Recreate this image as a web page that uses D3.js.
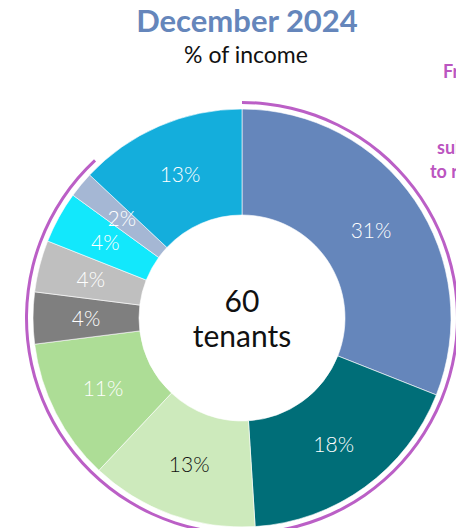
<!DOCTYPE html>
<html lang="en">
  <head>
    <meta charset="utf-8">
    <title>December 2024 - % of income</title>
    <script src="https://cdnjs.cloudflare.com/ajax/libs/d3/7.8.5/d3.min.js"></script>
    <style>
      body { margin: 0; background: #fff; }
      svg { display: block; font-family: "Lato", "Open Sans", sans-serif; }
    </style>
  </head>
  <body>
    <div id="chart"></div>
    <script>
    // slices, clockwise from 12 o'clock
    const shares = [31, 18, 13, 11, 4, 4, 4, 2, 13];
    const sliceColors = ["#6586bb", "#006e78", "#cdeabc", "#addd96", "#7f7f7f",
                         "#bfbfbf", "#12e8fc", "#a5b7d4", "#14aedc"];
    const labelColors = ["#fff", "#fff", "#111", "#fff", "#fff", "#fff", "#fff", "#fff", "#fff"];
    const tenants = 60;
    // purple bracket arc, in degrees
    const bracketFrom = 0;
    const bracketTo = 317;

    const w = 456, h = 528;
    const cx = 242, cy = 318;
    const rOuter = 209, rInner = 103;

    const svg = d3.select("#chart").append("svg")
      .attr("width", w)
      .attr("height", h);

    // title
    svg.append("text")
      .attr("x", 247).attr("y", 32)
      .attr("text-anchor", "middle")
      .style("font-size", "31px")
      .style("font-weight", "bold")
      .style("fill", "#6586bb")
      .text("December 2024");

    svg.append("text")
      .attr("x", 246).attr("y", 63)
      .attr("text-anchor", "middle")
      .style("font-size", "23px")
      .style("fill", "#111")
      .text("% of income");

    // side notes, cut by the right edge like in the original
    const notes = [["From", 443, 78], ["subsidy", 437, 154], ["to rent", 430, 178]];
    svg.selectAll(".note")
      .data(notes)
      .enter().append("text")
      .attr("class", "note")
      .attr("x", d => d[1]).attr("y", d => d[2])
      .style("font-size", "18px")
      .style("font-weight", "bold")
      .style("fill", "#bb55c0")
      .text(d => d[0]);

    const g = svg.append("g").attr("transform", "translate(" + cx + "," + cy + ")");

    const pie = d3.pie().sort(null).value(d => d);
    const arc = d3.arc().innerRadius(rInner).outerRadius(rOuter);
    const arcs = pie(shares);

    g.selectAll(".slice")
      .data(arcs)
      .enter().append("path")
      .attr("class", "slice")
      .attr("d", arc)
      .style("fill", (d, i) => sliceColors[i])
      .style("stroke", "#fff")
      .style("stroke-width", 0.6);

    g.selectAll(".lbl")
      .data(arcs)
      .enter().append("text")
      .attr("class", "lbl")
      .attr("transform", d => "translate(" + arc.centroid(d) + ")")
      .attr("text-anchor", "middle")
      .attr("dy", "0.36em")
      .style("font-size", "21px")
      .style("font-weight", 300)
      .style("fill", (d, i) => labelColors[i])
      .text(d => d.data + "%");

    // bracket arc
    const bracket = d3.arc().innerRadius(214).outerRadius(217)
      .startAngle(bracketFrom * Math.PI / 180)
      .endAngle(bracketTo * Math.PI / 180);
    g.append("path")
      .attr("d", bracket())
      .style("fill", "#bb5fc6");

    // centre text
    g.append("text")
      .attr("y", -6)
      .attr("text-anchor", "middle")
      .style("font-size", "30px")
      .style("fill", "#111")
      .text(tenants);
    g.append("text")
      .attr("y", 29)
      .attr("text-anchor", "middle")
      .style("font-size", "30px")
      .style("fill", "#111")
      .text("tenants");
    </script>
  </body>
</html>
